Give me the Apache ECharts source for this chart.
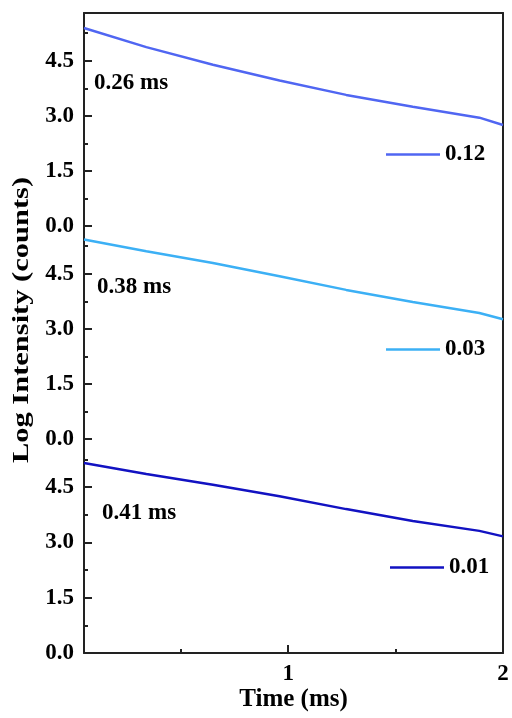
<!DOCTYPE html>
<html>
<head>
<meta charset="utf-8">
<script src="https://cdn.jsdelivr.net/npm/echarts@6/dist/echarts.min.js"></script>
<style>html,body{margin:0;padding:0;background:#fff}#c{width:512px;height:718px}</style>
</head>
<body>
<div id="c"></div>
<script>
// Time (ms)
var times = [0.05, 0.34, 0.65, 0.96, 1.27, 1.58, 1.89, 2.0];
// Log intensity per panel (top to bottom)
var vals012 = [5.39, 4.87, 4.39, 3.96, 3.57, 3.25, 2.95, 2.75];
var vals003 = [5.43, 5.11, 4.79, 4.43, 4.06, 3.73, 3.43, 3.26];
var vals001 = [5.15, 4.85, 4.56, 4.25, 3.90, 3.58, 3.31, 3.16];
var seriesNames = ['0.12', '0.03', '0.01'];
var lifetimes = ['0.26 ms', '0.38 ms', '0.41 ms'];
var xMajorTicks = [1, 2];
var xMinorTicks = [0.5, 1.5];
var yTitle = 'Log Intensity (counts)';
var xTitle = 'Time (ms)';

var FONT = '"Liberation Serif","Times New Roman",serif';
var AX = '#222';
var colors = ['#5066f2', '#3cb0f5', '#1212c2'];
var allVals = [vals012, vals003, vals001];

function pairs(v) { return times.map(function (t, i) { return [t, v[i]]; }); }

var panelTops = [13, 226, 439];
var panelH = [213, 213, 214];
var grids = [], xAxes = [], yAxes = [], series = [], legends = [], graphics = [];
var annoPos = [[94, 83], [97, 287], [102, 513]];
var legPos = [[386, 143], [386, 338], [390, 556]];

for (var p = 0; p < 3; p++) {
  grids.push({ left: 84, right: 9, top: panelTops[p], height: panelH[p], containLabel: false });
  var isBottom = p === 2;
  xAxes.push({
    type: 'value', gridIndex: p, min: 0.05, max: 2, show: isBottom,
    axisLine: { show: true, onZero: false, lineStyle: { color: AX, width: 2 } },
    axisTick: { show: true, inside: true, length: 8, customValues: xMajorTicks, lineStyle: { color: AX, width: 2 } },
    axisLabel: { show: true, customValues: xMajorTicks, margin: 10, color: '#000', fontFamily: FONT, fontWeight: 'bold', fontSize: 23 },
    splitLine: { show: false },
    name: isBottom ? xTitle : '', nameLocation: 'middle', nameGap: 31,
    nameTextStyle: { color: '#000', fontFamily: FONT, fontWeight: 'bold', fontSize: 25 }
  });
  yAxes.push({
    type: 'value', gridIndex: p, min: 0, max: 5.8, interval: 1.5, position: 'left',
    axisLine: { show: true, onZero: false, lineStyle: { color: AX, width: 2 } },
    axisTick: { show: true, inside: true, length: 8, lineStyle: { color: AX, width: 2 } },
    axisLabel: { showMaxLabel: false, showMinLabel: true, margin: 10, color: '#000', fontFamily: FONT, fontWeight: 'bold', fontSize: 23,
      formatter: function (v) { return v.toFixed(1); } },
    splitLine: { show: false }
  });
  yAxes.push({
    type: 'value', gridIndex: p, min: 0, max: 5.8, interval: 0.75, position: 'left',
    axisLine: { show: false, onZero: false },
    axisTick: { show: true, inside: true, length: 4, lineStyle: { color: AX, width: 2 } },
    axisLabel: { show: false },
    splitLine: { show: false }
  });
  series.push({
    type: 'line', name: seriesNames[p], xAxisIndex: p, yAxisIndex: p * 2,
    data: pairs(allVals[p]), symbol: 'none', smooth: false,
    lineStyle: { color: colors[p], width: 2.5 }, itemStyle: { color: colors[p] }
  });
  legends.push({
    data: [seriesNames[p]], left: legPos[p][0], top: legPos[p][1], padding: 0,
    itemWidth: 54, itemHeight: 3, icon: 'path://M0,0 L54,0 L54,2.5 L0,2.5 Z',
    textStyle: { color: '#000', fontFamily: FONT, fontWeight: 'bold', fontSize: 23 }
  });
  graphics.push({
    type: 'text', x: annoPos[p][0], y: annoPos[p][1],
    style: { text: lifetimes[p], fill: '#000', font: 'bold 23px ' + FONT, verticalAlign: 'middle', align: 'left' }
  });
}
// second x axis for minor ticks on bottom panel
xAxes.push({
  type: 'value', gridIndex: 2, min: 0.05, max: 2, position: 'bottom',
  axisLine: { show: false, onZero: false },
  axisTick: { show: true, inside: true, length: 4, customValues: xMinorTicks, lineStyle: { color: AX, width: 2 } },
  axisLabel: { show: false }, splitLine: { show: false }
});
// frame grid (top and right border)
grids.push({ left: 84, right: 9, top: 13, bottom: 65 });
xAxes.push({
  type: 'value', gridIndex: 3, min: 0, max: 1, position: 'top',
  axisLine: { show: true, onZero: false, lineStyle: { color: AX, width: 2 } },
  axisTick: { show: false }, axisLabel: { show: false }, splitLine: { show: false }
});
yAxes.push({
  type: 'value', gridIndex: 3, min: 0, max: 1, position: 'right',
  axisLine: { show: true, onZero: false, lineStyle: { color: AX, width: 2 } },
  axisTick: { show: false }, axisLabel: { show: false }, splitLine: { show: false }
});
graphics.push({
  type: 'text', x: 22, y: 320, rotation: Math.PI / 2, scaleX: 1.27, scaleY: 1,
  style: { text: yTitle, fill: '#000', font: 'bold 24px ' + FONT, align: 'center', verticalAlign: 'middle' }
});

var chart = echarts.init(document.getElementById('c'), null, { renderer: 'canvas' });
chart.setOption({
  backgroundColor: '#fff',
  animation: false,
  grid: grids,
  xAxis: xAxes,
  yAxis: yAxes,
  legend: legends,
  series: series,
  graphic: graphics
});
</script>
</body>
</html>
